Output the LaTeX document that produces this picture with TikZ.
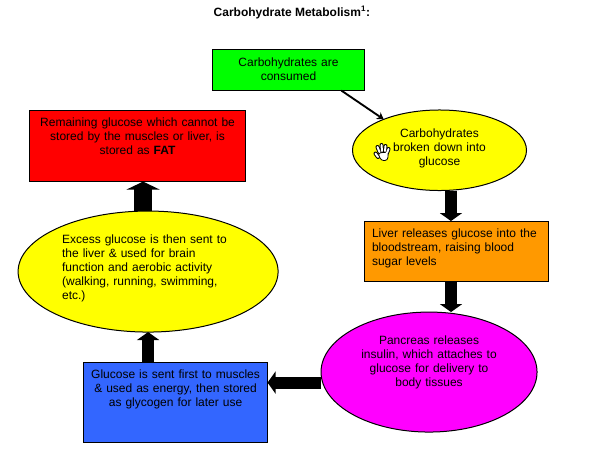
\documentclass[tikz,border=0pt]{standalone}
\usepackage{fontspec}
\setmainfont{Liberation Sans}
\usetikzlibrary{arrows.meta, shapes.geometric, positioning}
\definecolor{sugarblue}{HTML}{3366FF}
\definecolor{liverorange}{HTML}{FF9900}
\definecolor{ovalyellow}{HTML}{FFFF00}
\definecolor{ovalmagenta}{HTML}{FF00FF}
\definecolor{boxgreen}{HTML}{00FF00}
\definecolor{boxred}{HTML}{FF0000}
\tikzset{
  carbbox/.style={
    rectangle, draw=black, fill=#1, line width=0.75pt,
    inner ysep=0pt, inner xsep=4pt, outer sep=0pt,
    align=center, text height=12pt,
    font=\fontsize{9}{10.5}\selectfont
  },
  carboval/.style={
    ellipse, draw=black, fill=#1, line width=0.75pt,
    inner sep=0pt, outer sep=0pt,
    align=center, text height=9pt,
    font=\fontsize{9}{10.5}\selectfont
  },
  heavyarrow/.style={-{Triangle[length=6pt,width=16.5pt]}, line width=9pt, color=black},
  fatarrow/.style={-{Triangle[length=6pt,width=24.75pt]}, line width=13.5pt, color=black},
  thinarrow/.style={-{Stealth[length=5pt,width=6pt]}, line width=1.4pt, color=black},
}
\begin{document}
\begin{tikzpicture}[x=0.75pt,y=-0.75pt]
  \useasboundingbox (0,0) rectangle (596,461);
  \node[carbbox=boxgreen,minimum width=114pt,text width=106pt,text height=12.6pt,text depth=17.8pt]
    (consumed) at (288.5,70.25) {Carbohydrates are\\consumed};
  \node[font=\fontsize{9}{10.5}\selectfont\bfseries,inner sep=0pt,above=23.25pt of consumed,xshift=2.6pt]
    (title) {Carbohydrate Metabolism\textsuperscript{1}:};
  \node[carboval=ovalyellow,minimum width=130.5pt,minimum height=60.4pt,text width=90pt,
        text height=9.75pt,text depth=28.5pt,below=14.6pt of consumed,xshift=113.25pt]
    (broken) {Carbohydrates\\broken down into\\glucose};
  \node[carbbox=liverorange,minimum width=138pt,inner xsep=6pt,text width=126pt,text height=12.6pt,text depth=32.4pt,
        align=left,below=22.9pt of broken,xshift=12.4pt]
    (liver) {Liver releases glucose into the\\bloodstream, raising blood\\sugar levels};
  \node[carboval=ovalmagenta,minimum width=162pt,minimum height=90pt,text width=112pt,text depth=51pt,
        below=23.25pt of liver,xshift=-20.25pt]
    (pancreas) {Pancreas releases\\insulin, which attaches to\\glucose for delivery to\\body tissues};
  \node[carbbox=sugarblue,minimum width=138pt,text width=130pt,text depth=48pt,
        left=40.1pt of pancreas,yshift=-22.9pt]
    (muscles) {Glucose is sent first to muscles\\\& used as energy, then stored\\as glycogen for later use};
  \node[carboval=ovalyellow,minimum width=195pt,minimum height=90.75pt,text width=129pt,text depth=51.75pt,
        align=left,above=22.9pt of muscles,xshift=-20.6pt]
    (excess) {Excess glucose is then sent to\\the liver \& used for brain\\function and aerobic activity\\(walking, running, swimming,\\etc.)};
  \node[carbbox=boxred,minimum width=162pt,text width=154pt,text depth=41.6pt,
        above=22.1pt of excess,xshift=-7.9pt]
    (fat) {Remaining glucose which cannot be\\stored by the muscles or liver, is\\stored as \textbf{FAT}};
  \draw[thinarrow] (consumed.-21) -- (broken.151);
  \draw[heavyarrow] ([xshift=8.6pt]broken.south) -- ([xshift=8.6pt]broken.south |- liver.north);
  \draw[heavyarrow] ([xshift=-3.75pt]liver.south) -- ([xshift=-3.75pt]liver.south |- pancreas.north);
  \draw[heavyarrow] ([yshift=-7.9pt]pancreas.west) -- ([yshift=-7.9pt]pancreas.west -| muscles.east);
  \draw[heavyarrow] ([xshift=-20.6pt]muscles.north) -- ([xshift=-20.6pt]muscles.north |- excess.south);
  \draw[fatarrow] ([xshift=-3.75pt]excess.north) -- ([xshift=-3.75pt]excess.north |- fat.south);
  % hand pointer
  \foreach \ax/\ay/\bx/\by in {378/157/375.5/153.5,379.5/152/377.5/147,382/151/381.5/145,385/151/385.5/146,387/153/388.5/149}
    \draw[line width=3pt,color=black,line cap=round] (\ax,\ay) -- (\bx,\by);
  \fill[white,draw=black,line width=0.6pt,rounded corners=2pt]
    (378,153) -- (388.5,152) -- (387.5,160.5) -- (381,160.5) -- cycle;
  \foreach \ax/\ay/\bx/\by in {378/157/375.5/153.5,379.5/152/377.5/147,382/151/381.5/145,385/151/385.5/146,387/153/388.5/149}
    \draw[line width=1.5pt,color=white,line cap=round] (\ax,\ay) -- (\bx,\by);
\end{tikzpicture}
\end{document}
